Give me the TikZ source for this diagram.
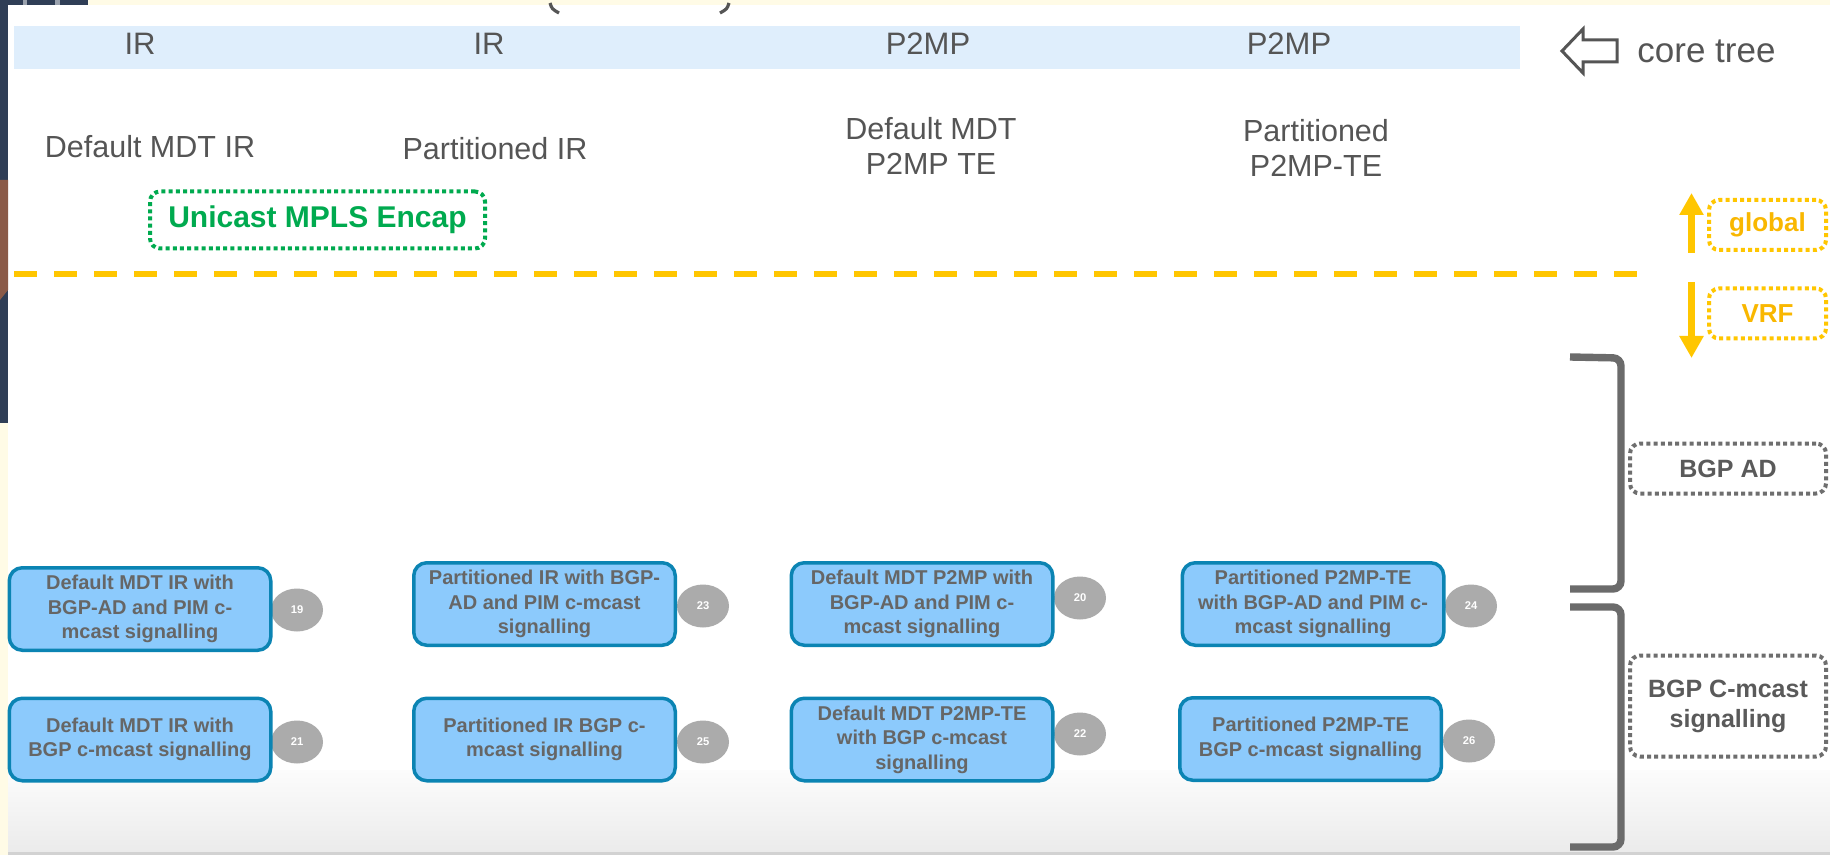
\documentclass[tikz,border=0pt]{standalone}
\usepackage{fontspec}
\setmainfont{Liberation Sans}
\usetikzlibrary{shapes.geometric,arrows.meta}

\definecolor{cream}{HTML}{FFFBE6}
\definecolor{navy}{HTML}{2F3E56}
\definecolor{navygap}{HTML}{9AA2AE}
\definecolor{rust}{HTML}{8A5A48}
\definecolor{band}{HTML}{DFEEFC}
\definecolor{labelgrey}{HTML}{555555}
\definecolor{encapgreen}{HTML}{00AA4F}
\definecolor{gold}{HTML}{FFC600}
\definecolor{goldtext}{HTML}{F9B700}
\definecolor{bracketgrey}{HTML}{6B6B6B}
\definecolor{dotgrey}{HTML}{6E6E6E}
\definecolor{dottext}{HTML}{5A5A5A}
\definecolor{boxfill}{HTML}{8CCAFC}
\definecolor{boxborder}{HTML}{0B84B3}
\definecolor{boxtext}{HTML}{666666}
\definecolor{numgrey}{HTML}{ABABAB}
\definecolor{floortop}{HTML}{FCFCFC}
\definecolor{floorbottom}{HTML}{EBEBEB}
\definecolor{floorline}{HTML}{D2D2D2}

\begin{document}
\begin{tikzpicture}[x=0.5pt,y=-0.5pt,
  txt/.style={inner sep=0pt, text=labelgrey},
  toplabel/.style={txt, anchor=base, font=\fontsize{15.5pt}{18pt}\selectfont},
  midlabel/.style={txt, anchor=base, align=center, font=\fontsize{15.25pt}{17.5pt}\selectfont},
  dotframe/.style={draw, line width=2pt, dash pattern=on 2pt off 1.6pt, rounded corners=5pt, inner sep=0pt, align=center},
  encapbox/.style={dotframe, draw=encapgreen, text=encapgreen, font=\bfseries\fontsize{15pt}{18pt}\selectfont,
    minimum width=167.5pt, minimum height=28.5pt},
  scopebox/.style={dotframe, draw=gold, text=goldtext, font=\bfseries\fontsize{13pt}{15pt}\selectfont,
    minimum width=58.5pt, minimum height=25pt},
  bgpbox/.style={dotframe, draw=dotgrey, text=dottext, font=\bfseries\fontsize{12.5pt}{15pt}\selectfont,
    minimum width=98pt},
  goldarrow/.style={gold, line width=3.5pt, -{Triangle[width=11.5pt,length=11pt]}},
  bracket/.style={bracketgrey, line width=3.7pt, rounded corners=4pt},
  modebox/.style={draw=boxborder, fill=boxfill, line width=1.75pt, rounded corners=6.5pt,
    minimum width=130.75pt, minimum height=41.25pt, inner sep=1pt, align=center, text=boxtext,
    font=\bfseries\fontsize{10pt}{12.25pt}\selectfont},
  numdot/.style={ellipse, fill=numgrey, minimum width=26pt, minimum height=21.5pt, inner sep=0pt,
    text=white, font=\bfseries\fontsize{5.6pt}{6pt}\selectfont}
]
\useasboundingbox (0,0) rectangle (1830,855);

% page background and frame
\fill[cream] (0,0) rectangle (1830,855);
\fill[white] (8,5) rectangle (1830,855);
\shade[top color=floortop, bottom color=floorbottom] (8,770) rectangle (1830,852);
\fill[floorline] (8,852) rectangle (1830,855);
\fill[navy] (0,5) rectangle (8,423);
\fill[navygap] (0,0) rectangle (88,5);
\fill[navy] (0,0) rectangle (23,5);
\fill[navy] (27,0) rectangle (55,5);
\fill[navy] (60,0) rectangle (88,5);
\fill[rust] (0,180) -- (8,180) -- (8,290) -- (0,300) -- cycle;

% tails of the title parentheses
\draw[labelgrey, line width=1.6pt] (550,3) .. controls (552,9) .. (559,13);
\draw[labelgrey, line width=1.6pt] (729,3) .. controls (727,9) .. (720,13);

% core tree band
\fill[band] (14,26) rectangle (1520,69);
\node[toplabel] (ir1) at (140,55) {IR};
\node[toplabel] (ir2) at (489,55) {IR};
\node[toplabel] (pmp1) at (928,55) {P2MP};
\node[toplabel] (pmp2) at (1289,55) {P2MP};

\draw[labelgrey, line width=1.5pt, fill=white, line join=miter]
  (1562,51) -- (1583,29) -- (1583,40) -- (1617,40) -- (1617,62) -- (1583,62) -- (1583,73) -- cycle;
\node[txt, anchor=base west, font=\fontsize{17.5pt}{20pt}\selectfont] (core) at (1637,63) {core tree};

% profile names (multi-line labels are placed by their last baseline)
\node[midlabel] (dmir) at (150,158) {Default MDT IR};
\node[midlabel] (pir) at (495,160) {Partitioned IR};
\node[midlabel] (dmte) at (931,175) {Default MDT\\P2MP TE};
\node[midlabel] (pte) at (1316,177) {Partitioned\\P2MP-TE};

\node[encapbox] (encap) at (317.5,220) {Unicast MPLS Encap};

% global / VRF divider
\coordinate (divl) at (14,274);
\coordinate (divr) at (1649,274);
\draw[gold, line width=3.3pt, dash pattern=on 11.5pt off 8.5pt] (divl) -- (divr);

\coordinate (upfrom) at (1691.5,253);
\coordinate (upto) at (1691.5,193);
\coordinate (dnfrom) at (1691.5,282);
\coordinate (dnto) at (1691.5,358);
\draw[goldarrow] (upfrom) -- (upto);
\draw[goldarrow] (dnfrom) -- (dnto);
\node[scopebox] (glob) at (1767.5,225) {global};
\node[scopebox] (vrf) at (1767.5,313.5) {VRF};

% signalling brackets
\draw[bracket] (1570,357) -- (1621,358) -- (1621,589) -- (1570,589);
\draw[bracket] (1570,607) -- (1621,607) -- (1621,847) -- (1570,847);
\node[bgpbox, minimum height=25pt] (bgpad) at (1728,468.5) {BGP AD};
\node[bgpbox, minimum height=50.5pt] (bgpcm) at (1728,706) {BGP C-mcast\\signalling};

% profile numbers
\node[numdot] (n19) at (297,610) {19};
\node[numdot] (n23) at (703,606) {23};
\node[numdot] (n20) at (1080,598) {20};
\node[numdot] (n24) at (1471,606) {24};
\node[numdot] (n21) at (297,742) {21};
\node[numdot] (n25) at (703,742) {25};
\node[numdot] (n22) at (1080,734) {22};
\node[numdot] (n26) at (1469,741) {26};

% profiles
\node[modebox] (p19) at (140,609) {Default MDT IR with\\BGP-AD and PIM c-\\mcast signalling};
\node[modebox] (p23) at (544.5,604) {Partitioned IR with BGP-\\AD and PIM c-mcast\\signalling};
\node[modebox] (p20) at (922,604) {Default MDT P2MP with\\BGP-AD and PIM c-\\mcast signalling};
\node[modebox] (p24) at (1313,604) {Partitioned P2MP-TE\\with BGP-AD and PIM c-\\mcast signalling};
\node[modebox] (p21) at (140,739.5) {Default MDT IR with\\BGP c-mcast signalling};
\node[modebox] (p25) at (544.5,739.5) {Partitioned IR BGP c-\\mcast signalling};
\node[modebox] (p22) at (922,739.5) {Default MDT P2MP-TE\\with BGP c-mcast\\signalling};
\node[modebox] (p26) at (1310.5,739) {Partitioned P2MP-TE\\BGP c-mcast signalling};
\end{tikzpicture}
\end{document}
